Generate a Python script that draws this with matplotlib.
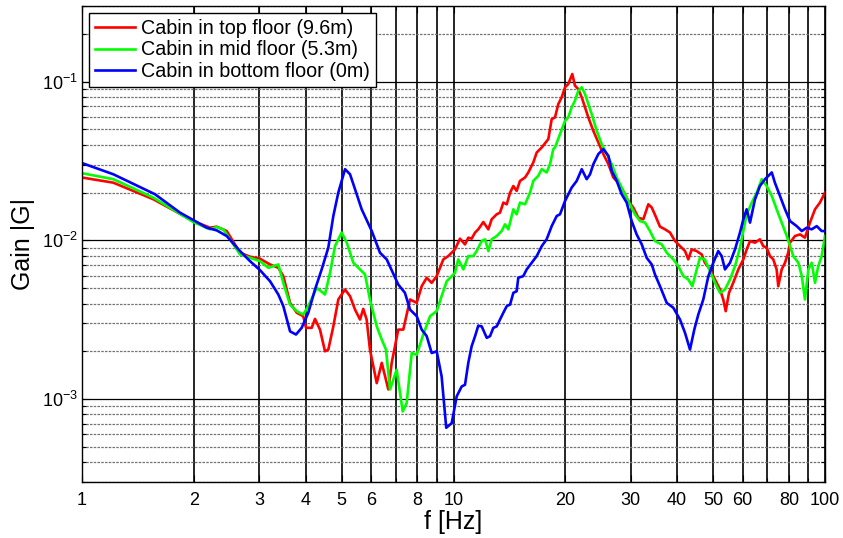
import matplotlib
matplotlib.use('Agg')
import matplotlib.pyplot as plt
from matplotlib.ticker import FixedLocator, NullFormatter, LogLocator

# frequency response |G| of the cabin, one curve per floor
freq_top = [1.0, 1.214, 1.556, 1.993, 2.21, 2.305, 2.452, 2.663, 2.833, 3.014, 3.207, 3.376, 3.483,
            3.631, 3.784, 3.94, 4.009, 4.153, 4.238, 4.371, 4.509, 4.603, 4.748, 4.897, 5.105, 5.266,
            5.432, 5.602, 5.716, 5.837, 5.958, 6.214, 6.41, 6.676, 6.818, 7.1, 7.325, 7.64, 7.96, 8.21,
            8.47, 8.735, 9.01, 9.39, 9.68, 10.09, 10.41, 10.74, 10.96, 11.19, 11.43, 11.66, 12.03,
            12.41, 12.67, 13.07, 13.34, 13.62, 13.91, 14.2, 14.49, 14.79, 15.1, 15.58, 15.9, 16.4,
            16.75, 17.28, 18.0, 18.38, 18.76, 19.15, 19.55, 19.96, 20.37, 20.88, 21.23, 21.67, 22.14,
            22.59, 23.06, 23.79, 24.54, 25.31, 26.12, 26.92, 27.77, 28.64, 29.54, 30.48, 31.44, 32.43,
            33.45, 34.17, 34.86, 35.96, 37.1, 38.27, 39.47, 40.71, 42.0, 42.85, 43.77, 45.15, 46.57,
            47.5, 49.03, 50.58, 52.16, 53.23, 54.04, 55.15, 56.6, 58.44, 60.28, 61.53, 62.83, 64.8,
            66.8, 68.2, 69.66, 71.1, 72.56, 74.1, 74.85, 76.45, 78.05, 79.6, 80.5, 83.0, 85.66, 88.3,
            91.1, 94.0, 96.9, 100.0]
gain_top = [0.0249, 0.0231, 0.01816, 0.01324, 0.01202, 0.0122, 0.01145, 0.00836, 0.00789, 0.00766,
            0.00705, 0.00672, 0.00595, 0.00404, 0.0035, 0.00333, 0.00281, 0.00281, 0.0032, 0.00274,
            0.002, 0.00205, 0.00287, 0.00424, 0.0049, 0.00445, 0.00366, 0.00317, 0.0037, 0.00317,
            0.00205, 0.00126, 0.00169, 0.00115, 0.00169, 0.00274, 0.00274, 0.00424, 0.00404, 0.00514,
            0.00581, 0.0054, 0.00595, 0.00759, 0.00796, 0.00877, 0.01025, 0.00943, 0.0104, 0.01025,
            0.0112, 0.01174, 0.01305, 0.01174, 0.01358, 0.0146, 0.01496, 0.0173, 0.01688, 0.02, 0.022,
            0.0205, 0.0237, 0.0249, 0.0268, 0.031, 0.0358, 0.0385, 0.0435, 0.0581, 0.0596, 0.0723,
            0.0797, 0.0922, 0.0967, 0.1118, 0.0944, 0.0899, 0.0797, 0.0689, 0.0596, 0.049, 0.0414,
            0.035, 0.0302, 0.0249, 0.0231, 0.0205, 0.0177, 0.0161, 0.0139, 0.01358, 0.01688, 0.0161,
            0.0145, 0.0122, 0.01174, 0.0112, 0.0099, 0.0092, 0.00856, 0.00759, 0.00877, 0.00856,
            0.00815, 0.00723, 0.00656, 0.00567, 0.0049, 0.00424, 0.00358, 0.00467, 0.0054, 0.00656,
            0.00759, 0.00877, 0.0099, 0.00967, 0.01015, 0.0092, 0.009, 0.00796, 0.00759, 0.00656,
            0.00514, 0.00656, 0.00723, 0.00836, 0.00967, 0.01065, 0.0109, 0.0104, 0.01294, 0.0157,
            0.0173, 0.02]

freq_mid = [1.0, 1.214, 1.556, 1.993, 2.21, 2.305, 2.401, 2.663, 2.833, 3.014, 3.174, 3.376, 3.483,
            3.631, 3.784, 3.94, 4.066, 4.283, 4.509, 4.652, 4.797, 5.0, 5.16, 5.375, 5.602, 5.778,
            5.958, 6.214, 6.41, 6.58, 6.747, 7.03, 7.30, 7.48, 7.72, 7.96, 8.29, 8.65, 9.01, 9.29,
            9.59, 9.93, 10.09, 10.3, 10.63, 10.96, 11.31, 11.54, 11.91, 12.16, 12.41, 12.67, 13.07,
            13.48, 13.76, 14.05, 14.49, 14.79, 15.1, 15.58, 16.07, 16.4, 16.91, 17.28, 17.81, 18.19,
            18.56, 18.76, 19.35, 19.96, 20.37, 20.8, 21.23, 21.67, 22.14, 22.59, 23.06, 23.55, 24.29,
            25.06, 25.85, 26.66, 27.5, 28.36, 29.54, 30.79, 31.77, 32.77, 33.8, 34.86, 36.35, 37.49,
            39.06, 40.28, 41.56, 42.85, 43.94, 45.15, 46.08, 47.5, 49.03, 50.58, 52.16, 53.8, 55.5,
            57.25, 59.04, 60.28, 61.53, 63.5, 65.5, 67.56, 69.66, 71.9, 74.1, 76.45, 78.9, 80.5,
            82.15, 84.76, 86.6, 88.3, 90.2, 92.1, 94.0, 95.9, 97.95, 100.0]
gain_mid = [0.0265, 0.0243, 0.0186, 0.01305, 0.01174, 0.01213, 0.01174, 0.00815, 0.00777, 0.0074,
            0.00672, 0.00705, 0.0054, 0.00394, 0.00358, 0.00341, 0.00385, 0.00503, 0.00456, 0.00625,
            0.0092, 0.0112, 0.00967, 0.00723, 0.00656, 0.0061, 0.00424, 0.00287, 0.00237, 0.00205,
            0.00115, 0.00153, 0.000835, 0.000943, 0.00195, 0.0019, 0.00255, 0.00333, 0.00358, 0.00445,
            0.00553, 0.006, 0.00625, 0.00759, 0.00656, 0.00796, 0.00796, 0.00856, 0.0099, 0.01015,
            0.00856, 0.01015, 0.01065, 0.01145, 0.01262, 0.01174, 0.0157, 0.0146, 0.0173, 0.01688,
            0.02, 0.0237, 0.0255, 0.0281, 0.0268, 0.0302, 0.0376, 0.0385, 0.0467, 0.0567, 0.0596,
            0.0689, 0.0759, 0.0877, 0.0922, 0.0836, 0.0723, 0.0625, 0.049, 0.0404, 0.035, 0.0302,
            0.0249, 0.0215, 0.0177, 0.0146, 0.01324, 0.01294, 0.01145, 0.0099, 0.00943, 0.00836,
            0.00759, 0.00688, 0.00595, 0.00567, 0.00514, 0.00656, 0.00777, 0.00759, 0.0064, 0.0054,
            0.00467, 0.0049, 0.00567, 0.00688, 0.009, 0.0115, 0.0145, 0.0173, 0.02, 0.0243, 0.022,
            0.01905, 0.0157, 0.01294, 0.01065, 0.0092, 0.00796, 0.00723, 0.00595, 0.00424, 0.00656,
            0.00723, 0.0054, 0.00688, 0.00796, 0.01065]

freq_bot = [1.0, 1.214, 1.572, 1.835, 2.015, 2.166, 2.305, 2.452, 2.663, 2.833, 3.014, 3.207, 3.376,
            3.483, 3.631, 3.767, 3.902, 4.066, 4.238, 4.417, 4.603, 4.748, 4.897, 5.105, 5.266, 5.432,
            5.66, 6.025, 6.34, 6.61, 7.1, 7.40, 7.64, 7.96, 8.21, 8.47, 8.735, 9.01, 9.29, 9.56, 9.89,
            10.2, 10.52, 10.74, 10.96, 11.19, 11.43, 11.66, 11.91, 12.29, 12.54, 12.8, 13.07, 13.34,
            13.62, 13.91, 14.2, 14.49, 14.79, 14.94, 15.41, 15.74, 16.24, 16.75, 17.28, 17.81, 18.38,
            18.96, 19.35, 19.96, 20.8, 21.46, 22.14, 22.83, 23.31, 23.79, 24.54, 25.31, 26.12, 26.66,
            27.5, 28.36, 29.25, 30.17, 31.12, 32.12, 33.11, 34.17, 34.86, 35.96, 37.49, 39.06, 40.71,
            42.0, 43.31, 44.48, 45.6, 47.03, 48.53, 50.04, 51.6, 52.71, 53.8, 55.5, 57.25, 59.04,
            60.28, 61.53, 62.83, 64.8, 66.8, 68.94, 70.4, 71.9, 73.3, 75.65, 78.05, 80.5, 83.9, 86.6,
            89.3, 92.1, 95.0, 97.95, 100.0]
gain_bot = [0.0307, 0.0261, 0.01953, 0.01496, 0.01324, 0.01202, 0.01156, 0.01065, 0.00856, 0.0074,
            0.00649, 0.00553, 0.00456, 0.00385, 0.00267, 0.00255, 0.00281, 0.0035, 0.0049, 0.00656,
            0.009, 0.01424, 0.02, 0.0281, 0.0261, 0.021, 0.0157, 0.01145, 0.00836, 0.00759, 0.00527,
            0.00467, 0.00366, 0.00333, 0.00274, 0.00249, 0.00195, 0.002, 0.00139, 0.000659, 0.000705,
            0.00104, 0.0012, 0.00123, 0.00169, 0.00215, 0.00249, 0.0029, 0.00287, 0.00243, 0.00249,
            0.00281, 0.00287, 0.00317, 0.0035, 0.00385, 0.00394, 0.00467, 0.00478, 0.00581, 0.00595,
            0.00656, 0.00723, 0.00796, 0.0092, 0.01015, 0.0123, 0.01424, 0.0146, 0.0177, 0.0215,
            0.0237, 0.0281, 0.0243, 0.0261, 0.0302, 0.035, 0.0376, 0.0341, 0.0274, 0.0237, 0.01953,
            0.0173, 0.01324, 0.0109, 0.00943, 0.00777, 0.00705, 0.0061, 0.00514, 0.00404, 0.00376,
            0.00317, 0.00261, 0.00205, 0.00274, 0.00341, 0.00424, 0.00595, 0.00723, 0.00856, 0.00796,
            0.00656, 0.00723, 0.00877, 0.0112, 0.01358, 0.0157, 0.01294, 0.01816, 0.022, 0.0243,
            0.0255, 0.0268, 0.0231, 0.01905, 0.0157, 0.01324, 0.0123, 0.01145, 0.01202, 0.01174,
            0.0123, 0.01145, 0.01145]

labels = ['Cabin in top floor (9.6m)', 'Cabin in mid floor (5.3m)', 'Cabin in bottom floor (0m)']
colors = ['#ff0000', '#00ff00', '#0000ff']

xtick_vals = [1, 2, 3, 4, 5, 6, 8, 10, 20, 30, 40, 50, 60, 80, 100]
xtick_minor = [7, 9, 70, 90]

plt.rcParams['font.family'] = ['Liberation Sans', 'DejaVu Sans']

fig = plt.figure(figsize=(8.43, 5.38), dpi=100)
ax = fig.add_axes([82 / 843, 1 - 482 / 538, 743 / 843, 476 / 538])

for f, g, lab, c in zip([freq_top, freq_mid, freq_bot], [gain_top, gain_mid, gain_bot], labels, colors):
    ax.plot(f, g, color=c, lw=1.9, label=lab)

ax.set_xscale('log')
ax.set_yscale('log')
ax.set_xlim(1, 100)
ax.set_ylim(3e-4, 0.3)

ax.xaxis.set_major_locator(FixedLocator(xtick_vals))
ax.set_xticklabels([str(v) for v in xtick_vals])
ax.xaxis.set_minor_locator(FixedLocator(xtick_minor))
ax.xaxis.set_minor_formatter(NullFormatter())
ax.yaxis.set_major_locator(LogLocator(base=10))
ax.yaxis.set_minor_locator(LogLocator(base=10, subs=range(2, 10)))
ax.yaxis.set_minor_formatter(NullFormatter())

# matlab style grid: solid verticals, dotted minor horizontals
ax.grid(which='both', axis='x', color='k', lw=1.2, ls='-')
ax.grid(which='major', axis='y', color='k', lw=0.9, ls='-')
ax.grid(which='minor', axis='y', color='0.45', lw=0.9, ls=(0, (2, 1)))
ax.set_axisbelow(True)

ax.tick_params(which='both', direction='in', top=True, right=True, labelsize=13, width=0.8)
ax.tick_params(which='major', length=5)
ax.tick_params(which='minor', length=3)
ax.tick_params(axis='x', pad=7)
ax.tick_params(axis='y', pad=3)
for sp in ax.spines.values():
    sp.set_linewidth(1.0)
    sp.set_color('k')

ax.set_xlabel('f [Hz]', fontsize=18, labelpad=1)
ax.set_ylabel('Gain |G|', fontsize=18, labelpad=5)

leg = ax.legend(loc='upper left', bbox_to_anchor=(0.0094, 0.985), borderaxespad=0, fancybox=False,
                edgecolor='k', framealpha=1, fontsize=14.2, handlelength=2.05, labelspacing=0.12,
                borderpad=0.3, handletextpad=0.3)
leg.get_frame().set_linewidth(1.0)

fig.savefig('out.png', dpi=100)
